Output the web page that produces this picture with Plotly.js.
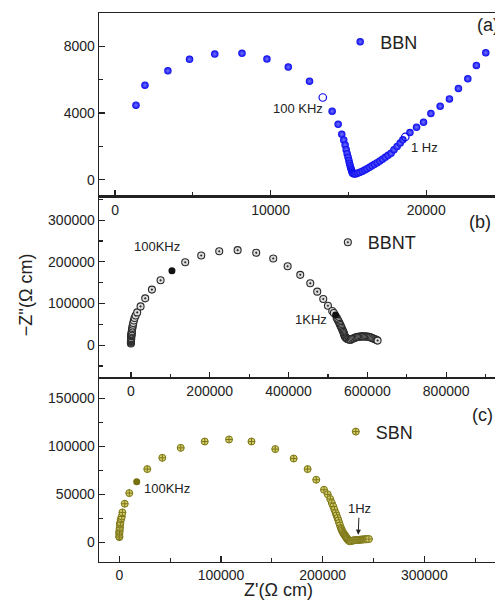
<!DOCTYPE html>
<html>
<head>
<meta charset="utf-8">
<script src="https://cdn.plot.ly/plotly-3.0.1.min.js"></script>
<style>html,body{margin:0;padding:0;overflow:hidden;background:#fff}</style>
</head>
<body>
<div id="chart" style="width:500px;height:603px"></div>
<script>
// Panel (a) BBN
const bbnX = [1346,1923,3397,4788,6410,8160,9763,11135,12500,13955,14340,14572,14700,14790,14860,14920,14980,15030,15070,15110,15150,15190,15220,15250,15280,15320,15400,15500,15620,15750,15900,16050,16200,16360,16520,16680,16850,17020,17190,17370,17550,17740,17930,18130,18330,18500,18955,19378,19827,20301,20897,21494,22071,22673,23224,23827];
const bbnY = [4470,5670,6530,7218,7537,7579,7236,6755,5913,4108,3326,2725,2380,2080,1800,1560,1340,1150,980,830,700,590,500,430,380,350,340,360,400,450,510,580,660,740,830,920,1020,1120,1230,1340,1460,1580,1800,1990,2200,2390,2827,3146,3447,3970,4409,4848,5473,6052,6857,7615];
const bbnOpenX = [13353,18654];
const bbnOpenY = [4932,2563];

// Panel (b) BBNT
const bbntX = [0,0,0,100,200,300,400,500,600,800,1000,1200,1400,1600,2000,2500,3000,3600,4200,5000,5900,7500,9300,12000,16000,24500,36300,53300,75300,137800,178400,224100,270800,318000,361200,397700,429700,455100,472800,488100,500000,510900,515000,522000,524000,526100,528000,530000,531500,533000,534500,536000,537500,539000,540000,541000,542000,543100,544500,546000,548000,550000,553000,555800,558000,561000,564000,567000,570000,573000,576000,579000,582000,585000,588000,591000,594000,597000,600000,603000,606000,609000,612000,615000,618000,621000,624000,626000];
const bbntY = [4000,6000,8000,10000,11000,12500,14000,15500,17000,20700,22000,24000,26000,28000,31000,34000,38000,41000,44800,49000,53000,59000,65100,71000,78600,93000,112300,133300,155700,199000,215200,225500,228000,221700,208000,189400,168700,148400,128400,110800,94700,81900,77000,66000,62000,58600,55000,51000,48000,44800,41500,38000,35000,32000,29000,26000,23300,20700,18800,17000,15500,14500,13500,12800,13200,14500,16000,17200,18500,19200,19800,20300,20700,21000,21000,21000,20900,20700,20500,20000,19200,18300,17300,16000,14800,13500,12200,11000];
const bbntFillX = [104100,519500];
const bbntFillY = [178300,72300];

// Panel (c) SBN
const sbnX = [0,0,0,0,100,200,300,400,500,600,800,1000,1400,1900,2400,3000,5300,9800,27500,42300,60400,84000,107900,130000,153400,171500,185200,193700,201300,205000,207500,209000,210400,211600,212800,213700,214700,215500,216300,217100,218000,218500,219000,219600,220300,220800,221200,221600,222000,222400,222800,223200,223600,224000,224300,224700,225000,225600,226500,227300,228000,229000,230000,231000,232000,233000,234000,235000,236000,237000,238000,239000,240000,241000,242000,243000,244000,245500];
const sbnY = [5500,6200,8000,9800,11000,12000,13900,15000,16000,18400,19500,21000,23600,25000,27000,31200,40200,51300,76300,88000,98400,105000,107100,105000,97100,87300,76300,65200,54800,50000,45100,41000,37400,34000,30600,28000,25400,22800,20200,17600,15000,13800,12500,11000,9800,9000,8400,7700,7000,6400,5800,5200,4600,4000,3500,3000,2500,1800,1200,1300,1500,1800,2000,2200,2300,2400,2500,2600,2700,2800,2900,3000,3100,3200,3300,3300,3400,3500];
const sbnFillX = [17100];
const sbnFillY = [63100];

const FONT = 'Liberation Sans, Arial, sans-serif';
const blue = '#0808ee';
const olive = '#d2cc6a';

const traces = [
  {x:bbnX, y:bbnY, xaxis:'x', yaxis:'y', type:'scatter', mode:'markers', name:'BBN', legend:'legend',
   marker:{size:7.5, color:blue, gradient:{type:'radial', color:'#7474ff'}, line:{width:0}}},
  {x:bbnOpenX, y:bbnOpenY, xaxis:'x', yaxis:'y', type:'scatter', mode:'markers', showlegend:false,
   marker:{size:7.5, symbol:'circle-open', color:blue, line:{width:1.2, color:blue}}},
  {x:bbntX, y:bbntY, xaxis:'x2', yaxis:'y2', type:'scatter', mode:'markers', name:'BBNT', legend:'legend2',
   marker:{size:7, symbol:'circle-dot', color:'#dcdcdc', line:{width:1.1, color:'#2a2a2a'}}},
  {x:bbntFillX, y:bbntFillY, xaxis:'x2', yaxis:'y2', type:'scatter', mode:'markers', showlegend:false,
   marker:{size:7, color:'#111', line:{width:0}}},
  {x:sbnX, y:sbnY, xaxis:'x3', yaxis:'y3', type:'scatter', mode:'markers', name:'SBN', legend:'legend3',
   marker:{size:7, symbol:'circle-cross', color:olive, line:{width:1, color:'#7c7618'}}},
  {x:sbnFillX, y:sbnFillY, xaxis:'x3', yaxis:'y3', type:'scatter', mode:'markers', showlegend:false,
   marker:{size:7, color:'#77700f', line:{width:0}}}
];

function ax(extra){
  return Object.assign({
    showline:true, mirror:true, linecolor:'#222', linewidth:1.4,
    ticks:'inside', ticklen:6, tickwidth:1.2, tickcolor:'#222',
    showgrid:false, zeroline:false, tickformat:'d',
    tickfont:{family:FONT, size:14, color:'#222'}
  }, extra);
}

const layout = {
  width:500, height:603,
  margin:{l:99, r:3, t:13, b:41},
  paper_bgcolor:'#fff', plot_bgcolor:'#fff',
  font:{family:FONT, color:'#222'},
  xaxis: ax({domain:[0,1], anchor:'y', range:[-1030,24550], dtick:10000, tick0:0, minor:{dtick:5000, ticks:'inside', ticklen:4, tickcolor:'#222'}}),
  yaxis: ax({domain:[0.666,1], anchor:'x', range:[-1000,10000], dtick:4000, tick0:0, minor:{dtick:2000, ticks:'inside', ticklen:4, tickcolor:'#222'}}),
  xaxis2: ax({domain:[0,1], anchor:'y2', range:[-81000,929000], dtick:200000, tick0:0, minor:{dtick:100000, ticks:'inside', ticklen:4, tickcolor:'#222'}}),
  yaxis2: ax({domain:[0.335,0.666], anchor:'x2', range:[-79000,357000], dtick:100000, tick0:0, minor:{dtick:50000, ticks:'inside', ticklen:4, tickcolor:'#222'}}),
  xaxis3: ax({domain:[0,1], anchor:'y3', range:[-20000,371500], dtick:100000, tick0:0, minor:{dtick:50000, ticks:'inside', ticklen:4, tickcolor:'#222'}}),
  yaxis3: ax({domain:[0,0.335], anchor:'x3', range:[-20400,171000], dtick:50000, tick0:0, minor:{dtick:25000, ticks:'inside', ticklen:4, tickcolor:'#222'}}),
  legend: {x:0.606, y:0.947, xanchor:'left', yanchor:'middle', bgcolor:'rgba(0,0,0,0)', font:{family:FONT, size:18, color:'#222'}},
  legend2:{x:0.575, y:0.582, xanchor:'left', yanchor:'middle', bgcolor:'rgba(0,0,0,0)', font:{family:FONT, size:18, color:'#222'}},
  legend3:{x:0.595, y:0.237, xanchor:'left', yanchor:'middle', bgcolor:'rgba(0,0,0,0)', font:{family:FONT, size:18, color:'#222'}},
  annotations: [
    {xref:'x', yref:'y', x:11731, y:4289, text:'100 KHz', showarrow:false, font:{family:FONT, size:13, color:'#222'}},
    {xref:'x', yref:'y', x:19872, y:1937, text:'1 Hz', showarrow:false, font:{family:FONT, size:13, color:'#222'}},
    {xref:'x2', yref:'y2', x:66000, y:237600, text:'100KHz', showarrow:false, font:{family:FONT, size:13, color:'#222'}},
    {xref:'x2', yref:'y2', x:456900, y:62700, text:'1KHz', showarrow:false, font:{family:FONT, size:13, color:'#222'}},
    {xref:'x3', yref:'y3', x:46900, y:56500, text:'100KHz', showarrow:false, font:{family:FONT, size:13, color:'#222'}},
    {xref:'x3', yref:'y3', x:235000, y:8000, text:'1Hz', showarrow:true, ax:1, ay:-26, arrowhead:2, arrowsize:1, arrowwidth:1, arrowcolor:'#222', standoff:0, font:{family:FONT, size:13, color:'#222'}},
    {xref:'paper', yref:'paper', x:0.945, y:0.978, xanchor:'left', yanchor:'middle', text:'(a)', showarrow:false, font:{family:FONT, size:18, color:'#222'}},
    {xref:'paper', yref:'paper', x:0.925, y:0.619, xanchor:'left', yanchor:'middle', text:'(b)', showarrow:false, font:{family:FONT, size:18, color:'#222'}},
    {xref:'paper', yref:'paper', x:0.932, y:0.268, xanchor:'left', yanchor:'middle', text:'(c)', showarrow:false, font:{family:FONT, size:18, color:'#222'}},
    {xref:'paper', yref:'paper', x:-0.183, y:0.486, xanchor:'center', yanchor:'middle', textangle:-90, text:"\u2212Z''(\u03a9 cm)", showarrow:false, font:{family:FONT, size:18, color:'#222'}},
    {xref:'paper', yref:'paper', x:0.45, y:-0.051, xanchor:'center', yanchor:'middle', text:"Z'(\u03a9 cm)", showarrow:false, font:{family:FONT, size:18, color:'#222'}}
  ]
};

Plotly.newPlot('chart', traces, layout, {displayModeBar:false, staticPlot:true});
</script>
</body>
</html>
